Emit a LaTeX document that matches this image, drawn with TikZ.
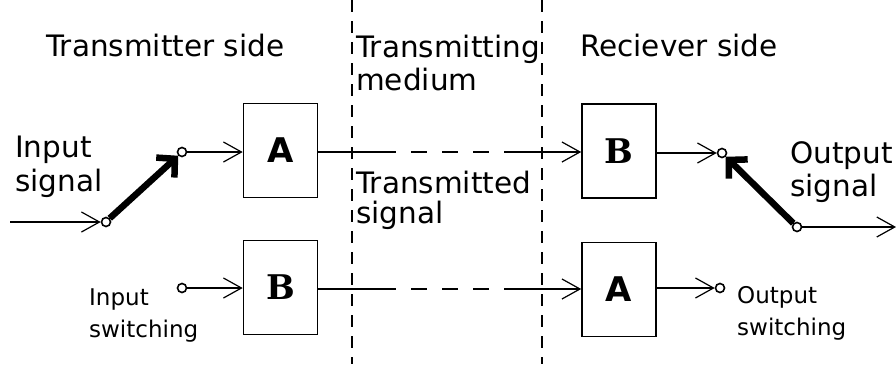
\documentclass[tikz,border=0pt]{standalone}
\usepackage{fontspec}
\setmainfont{DejaVu Sans}
\newfontfamily\boxserif{DejaVu Serif}
\usetikzlibrary{arrows.meta}
\begin{document}
\begin{tikzpicture}[x=1pt,y=-1pt,
  lbl/.style={anchor=base west,inner sep=0pt,font=\fontsize{29.5}{32}\selectfont},
  slbl/.style={anchor=base west,inner sep=0pt,font=\fontsize{23}{26}\selectfont},
  blk/.style={draw,line width=1.6pt,minimum width=74pt,minimum height=94pt,inner sep=0pt},
  letA/.style={font=\fontsize{34}{34}\selectfont\bfseries},
  letB/.style={font=\fontsize{34}{34}\selectfont\boxserif\bfseries},
  term/.style={draw,circle,line width=1.6pt,minimum size=9pt,inner sep=0pt},
  thin/.style={line width=1.3pt},
  barb/.style={-{Straight Barb[length=18pt,width=20pt,line width=1.2pt]}},
  lever/.style={line width=6.5pt,-{Straight Barb[length=13pt,width=27pt,line width=6.5pt]}},
  sep/.style={line width=1.8pt,dash pattern=on 12pt off 9pt},
  medium/.style={line width=1.3pt,dash pattern=on 16pt off 15pt}
]
\useasboundingbox (0,0) rectangle (896,364);
% dividers
\coordinate (s1t) at (352,0); \coordinate (s1b) at (352,364);
\coordinate (s2t) at (542,0); \coordinate (s2b) at (542,364);
\draw[sep] (s1t) -- (s1b);
\draw[sep] (s2t) -- (s2b);
% headings
\node[lbl] (ts) at (46,56) {Transmitter side};
\node[lbl] (tm1) at (356,57) {Transmitting};
\node[lbl] (tm2) at (356,90) {medium};
\node[lbl] (rs) at (580,56) {Reciever side};
\node[lbl] (tsg1) at (356,193) {Transmitted};
\node[lbl] (tsg2) at (356,223) {signal};
\node[lbl] (is1) at (15,157) {Input};
\node[lbl] (is2) at (15,191) {signal};
\node[lbl] (os1) at (790,163) {Output};
\node[lbl] (os2) at (790,196) {signal};
\node[slbl] (isw1) at (89,305) {Input};
\node[slbl] (isw2) at (89,337) {switching};
\node[slbl] (osw1) at (737,303) {Output};
\node[slbl] (osw2) at (737,335) {switching};
% boxes
\node[blk,letA] (A1) at (280.5,150.5) {A};
\node[blk,letB] (B1) at (280.5,287.5) {B};
\node[blk,letB] (B2) at (619,151) {B};
\node[blk,letA] (A2) at (619,289.5) {A};
% terminals
\node[term] (t1) at (106,222) {};
\node[term] (t2) at (182,152) {};
\node[term] (t3) at (182,288) {};
\node[term] (t4) at (722,153) {};
\node[term] (t5) at (797,227) {};
\node[term] (t6) at (720,288) {};
% input / output leads
\coordinate (inS) at (10,222);
\coordinate (outE) at (896,227);
\draw[thin,barb] (inS) -- (t1);
\draw[thin,barb] (t5) -- (outE);
% switches
\draw[lever] (t1.north east) -- (t2.south west);
\draw[lever] (t5.north west) -- (t4.south east);
% transmitter side links
\draw[thin,barb] (t2) -- (t2 -| A1.west);
\draw[thin,barb] (t3) -- (t3 -| B1.west);
% medium links
\coordinate (m1a) at (380,152); \coordinate (m1b) at (515,152);
\coordinate (m2a) at (380,289); \coordinate (m2b) at (515,289);
\draw[thin] (A1.east |- m1a) -- (m1a);
\draw[medium] (m1a) -- (m1b);
\draw[thin,barb] (m1b) -- (m1b -| B2.west);
\draw[thin] (B1.east |- m2a) -- (m2a);
\draw[medium] (m2a) -- (m2b);
\draw[thin,barb] (m2b) -- (m2b -| A2.west);
% receiver side links
\draw[thin,barb] (t4 -| B2.east) -- (t4);
\draw[thin,barb] (t6 -| A2.east) -- (t6);
\end{tikzpicture}
\end{document}
